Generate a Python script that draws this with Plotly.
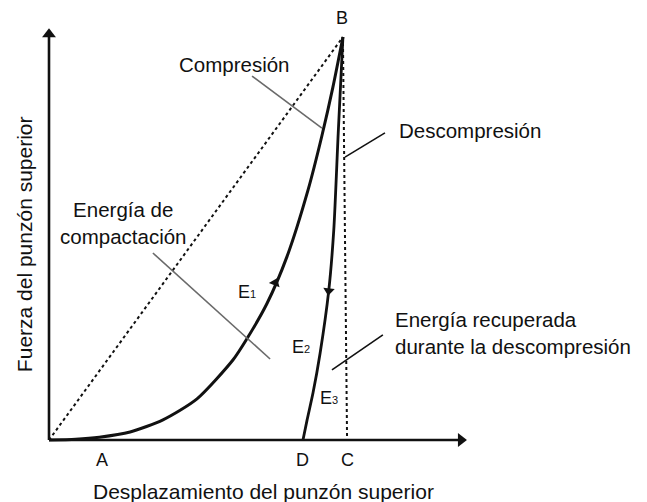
import plotly.graph_objects as go

# Compression curve: upper punch displacement vs. force, from the origin up to B
compresion_x = [0.0, 0.9, 1.7, 2.74, 3.85, 5.0, 6.22, 6.66, 7.36, 8.04, 8.75, 9.22, 9.59, 9.93]
compresion_y = [0.0, 0.02, 0.07, 0.20, 0.50, 1.02, 1.99, 2.48, 3.38, 4.55, 6.20, 7.55, 8.75, 10.0]

# Decompression curve: from B back down to D
descompresion_x = [9.93, 9.77, 9.62, 9.45, 9.16, 8.92, 8.72, 8.58]
descompresion_y = [10.0, 7.60, 5.20, 3.70, 2.16, 1.17, 0.50, 0.0]

# Labelled points on the displacement axis and the peak B
punto_A = 1.80
punto_D = 8.58
punto_C = 10.07
punto_B = (9.93, 10.0)

etiquetas_eje = ["A", "D", "C"]
valores_eje = [punto_A, punto_D, punto_C]

# Axis extents (arrow tips)
fin_x = 14.12
fin_y = 10.22

# Pixel scale of the drawing area
ORIGEN_PX = (49, 440)
PX_X = 29.6
PX_Y = 40.3
W, H = 647, 502

x_range = [-ORIGEN_PX[0] / PX_X, (W - ORIGEN_PX[0]) / PX_X]
y_range = [-(H - ORIGEN_PX[1]) / PX_Y, ORIGEN_PX[1] / PX_Y]

FONT = "Liberation Sans, Arial, Helvetica, sans-serif"
NEGRO = "#111111"
GRIS = "#6a6a6a"

fig = go.Figure()

# Axes with arrowheads
fig.add_trace(go.Scatter(x=[0, fin_x - 8 / PX_X], y=[0, 0], mode="lines",
                         line=dict(color=NEGRO, width=2.6), hoverinfo="skip"))
fig.add_trace(go.Scatter(x=[0, 0], y=[0, fin_y - 8 / PX_Y], mode="lines",
                         line=dict(color=NEGRO, width=2.6), hoverinfo="skip"))
fig.add_trace(go.Scatter(x=[fin_x - 6 / PX_X], y=[0], mode="markers",
                         marker=dict(symbol="triangle-right", size=12, color=NEGRO),
                         hoverinfo="skip"))
fig.add_trace(go.Scatter(x=[0], y=[fin_y - 6 / PX_Y], mode="markers",
                         marker=dict(symbol="triangle-up", size=12, color=NEGRO),
                         hoverinfo="skip"))

# Dotted reference lines: origin -> B and B -> C
fig.add_trace(go.Scatter(x=[0, punto_B[0]], y=[0, punto_B[1]], mode="lines",
                         line=dict(color=NEGRO, width=2, dash="dot"), hoverinfo="skip"))
fig.add_trace(go.Scatter(x=[punto_B[0], punto_C], y=[punto_B[1], 0], mode="lines",
                         line=dict(color=NEGRO, width=2, dash="dot"), hoverinfo="skip"))

# Compression and decompression curves
fig.add_trace(go.Scatter(x=compresion_x, y=compresion_y, mode="lines",
                         line=dict(color=NEGRO, width=3, shape="spline", smoothing=0.7),
                         hoverinfo="skip"))
fig.add_trace(go.Scatter(x=descompresion_x, y=descompresion_y, mode="lines",
                         line=dict(color=NEGRO, width=2.8, shape="spline", smoothing=0.7),
                         hoverinfo="skip"))

# Direction arrows on the curves
fig.add_trace(go.Scatter(x=[7.64], y=[3.9], mode="markers",
                         marker=dict(symbol="triangle-up", size=10, angle=22, color=NEGRO),
                         hoverinfo="skip"))
fig.add_trace(go.Scatter(x=[9.45], y=[3.7], mode="markers",
                         marker=dict(symbol="triangle-down", size=10, angle=7, color=NEGRO),
                         hoverinfo="skip"))

# Leader lines for the callouts
lideres = [
    ((6.86, 9.03), (9.22, 7.74), GRIS),
    ((11.35, 7.62), (10.0, 7.02), NEGRO),
    ((3.51, 4.64), (7.47, 2.01), GRIS),
    ((11.28, 2.61), (9.56, 1.74), NEGRO),
]
for (x0, y0), (x1, y1), col in lideres:
    fig.add_shape(type="line", x0=x0, y0=y0, x1=x1, y1=y1, xref="x", yref="y",
                  line=dict(color=col, width=1.6))

anotaciones = []

# Point labels A, D, C
for lab, val in zip(etiquetas_eje, valores_eje):
    anotaciones.append(dict(x=val, y=-0.5, xref="x", yref="y", text=lab, showarrow=False,
                            font=dict(family=FONT, size=18, color=NEGRO)))
anotaciones.append(dict(x=punto_B[0] - 0.03, y=10.47, xref="x", yref="y", text="B",
                        showarrow=False, font=dict(family=FONT, size=18, color=NEGRO)))

# Energy labels (small index on the baseline)
for txt, x, y in [("E<span style='font-size:11px'>1</span>", 6.69, 3.67),
                  ("E<span style='font-size:11px'>2</span>", 8.51, 2.31),
                  ("E<span style='font-size:11px'>3</span>", 9.46, 1.04)]:
    anotaciones.append(dict(x=x, y=y, xref="x", yref="y", text=txt, showarrow=False,
                            font=dict(family=FONT, size=18, color=NEGRO)))

# Callout texts
anotaciones.append(dict(x=6.25, y=9.33, xref="x", yref="y", text="Compresión",
                        showarrow=False, font=dict(family=FONT, size=20.5, color=NEGRO)))
anotaciones.append(dict(x=11.76, y=7.67, xref="x", yref="y", text="Descompresión",
                        xanchor="left", showarrow=False,
                        font=dict(family=FONT, size=20.5, color=NEGRO)))
anotaciones.append(dict(x=2.5, y=5.38, xref="x", yref="y", text="Energía de<br>compactación",
                        align="center", showarrow=False,
                        font=dict(family=FONT, size=20.5, color=NEGRO)))
anotaciones.append(dict(x=11.62, y=2.66, xref="x", yref="y",
                        text="Energía recuperada<br>durante la descompresión",
                        xanchor="left", align="left", showarrow=False,
                        font=dict(family=FONT, size=20.5, color=NEGRO)))

# Axis titles
anotaciones.append(dict(x=7.23, y=-1.27, xref="x", yref="y",
                        text="Desplazamiento del punzón superior", showarrow=False,
                        font=dict(family=FONT, size=21, color=NEGRO)))
anotaciones.append(dict(x=-0.845, y=4.86, xref="x", yref="y",
                        text="Fuerza del punzón superior", textangle=-90, showarrow=False,
                        font=dict(family=FONT, size=21, color=NEGRO)))

fig.update_layout(
    width=W, height=H,
    margin=dict(l=0, r=0, t=0, b=0),
    paper_bgcolor="white", plot_bgcolor="white",
    showlegend=False,
    xaxis=dict(range=x_range, visible=False, fixedrange=True),
    yaxis=dict(range=y_range, visible=False, fixedrange=True),
    annotations=anotaciones,
)

fig.write_html("out.html")
